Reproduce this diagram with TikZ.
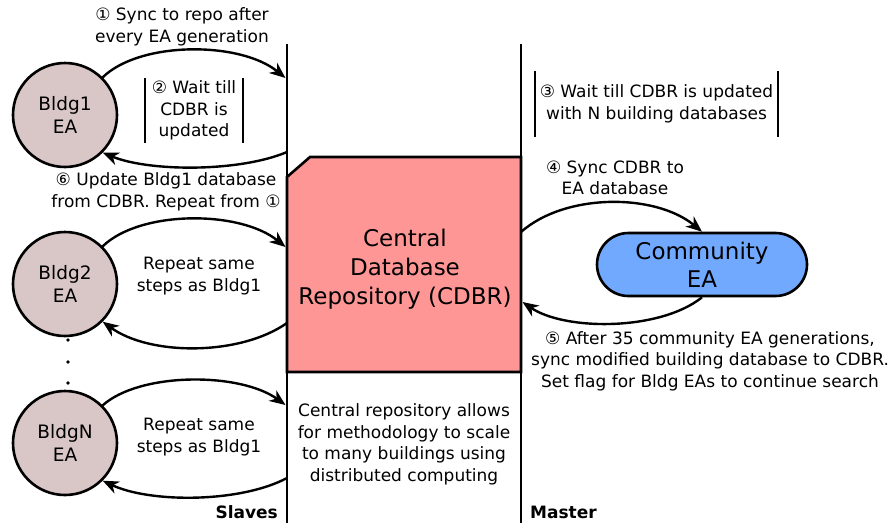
\documentclass[tikz,border=0pt]{standalone}
\usepackage{fontspec}
\setmainfont{DejaVu Sans}
\usetikzlibrary{arrows.meta,shapes.misc}
\definecolor{bldgfill}{RGB}{217,199,199}
\definecolor{repofill}{RGB}{255,150,150}
\definecolor{commfill}{RGB}{113,169,255}

\begin{document}
\begin{tikzpicture}[x=1pt,y=-1pt,
  small/.style={font=\fontsize{17}{21.5}\selectfont, align=center, inner sep=0pt},
  bigtext/.style={font=\fontsize{23}{29}\selectfont, align=center, inner sep=0pt},
  bldg/.style={circle, draw, line width=2.6pt, fill=bldgfill, minimum size=104pt,
    inner sep=0pt, align=center, font=\fontsize{18.5}{22.5}\selectfont},
  flow/.style={line width=2.4pt, -{Stealth[length=16pt,width=13pt,inset=5pt]}},
  lane/.style={line width=2.4pt},
  bar/.style={line width=2.4pt},
  waitbox/.style={small, minimum height=65pt},
  lanelabel/.style={font=\fontsize{17}{20}\selectfont\bfseries, inner sep=0pt},
  ]
\useasboundingbox (0,0) rectangle (893,523);

% swim lanes: slaves on the left, master on the right
\coordinate (slaveTop) at (287,44);
\coordinate (slaveBot) at (287,523);
\coordinate (masterTop) at (521,44);
\coordinate (masterBot) at (521,523);
\draw[lane] (slaveTop) -- (slaveBot);
\draw[lane] (masterTop) -- (masterBot);

% central database repository
\draw[line width=2.6pt, fill=repofill]
  (310,157) -- (521,157) -- (521,372) -- (287,372) -- (287,177) -- cycle;
\node[bigtext] (cdbr) at (405,269) {Central\\Database\\Repository (CDBR)};

% building EAs
\node[bldg] (b1) at (65,115) {Bldg1\\EA};
\node[bldg] (b2) at (65,284) {Bldg2\\EA};
\node[bldg] (b3) at (65,443) {BldgN\\EA};
\foreach \yy/\nm in {340/d1,362/d2,383/d3}
  \fill (68,\yy) circle[radius=1.9pt] coordinate (\nm);

% community EA
\node[rounded rectangle, draw, line width=2.6pt, fill=commfill,
  minimum width=210pt, minimum height=63pt, inner sep=0pt,
  font=\fontsize{23}{28}\selectfont, align=center] (comm) at (702,264.5) {Community\\EA};

% ends of the connectors on the lanes
\coordinate (s1a) at (285.5,78);
\coordinate (s1b) at (287,152);
\coordinate (s2a) at (285.5,247);
\coordinate (s2b) at (287,323);
\coordinate (s3a) at (285.5,405);
\coordinate (s3b) at (287,478);
\coordinate (m4) at (521,232);
\coordinate (m5) at (522.5,302);

% slave connectors
\draw[flow] (b1.45) .. controls (140,41) and (240,41) .. (s1a);
\draw[flow] (s1b) .. controls (240,172) and (150,172) .. (b1.-45);
\draw[flow] (b2.45) .. controls (140,210) and (240,210) .. (s2a);
\draw[flow] (s2b) .. controls (240,356) and (150,356) .. (b2.-45);
\draw[flow] (b3.45) .. controls (140,372) and (240,372) .. (s3a);
\draw[flow] (s3b) .. controls (240,503) and (150,503) .. (b3.-45);

% master connectors
\draw[flow] (m4) .. controls (565,193) and (655,193) .. (comm.north);
\draw[flow] (comm.south) .. controls (660,331) and (565,331) .. (m5);

% step labels
\node[small] (t1) at (182,27) {① Sync to repo after\\every EA generation};
\node[waitbox, minimum width=98pt] (w2) at (194,110.5) {② Wait till\\CDBR is\\updated};
\draw[bar] (w2.north west) -- (w2.south west);
\draw[bar] (w2.north east) -- (w2.south east);
\node[small] (t6) at (166,192) {⑥ Update Bldg1 database\\from CDBR. Repeat from ①};
\node[small] (r2) at (199,276) {Repeat same\\steps as Bldg1};
\node[small] (r3) at (199,437) {Repeat same\\steps as Bldg1};

\node[waitbox, minimum width=243pt] (w3) at (656.5,104) {③ Wait till CDBR is updated\\with N building databases};
\draw[bar] (w3.north west) -- (w3.south west);
\draw[bar] (w3.north east) -- (w3.south east);
\node[small] (t4) at (615,178) {④ Sync CDBR to\\EA database};
\node[small] (t5) at (710,361) {⑤ After 35 community EA generations,\\sync modified building database to CDBR.\\Set flag for Bldg EAs to continue search};

\node[small] (note) at (404,444.5) {Central repository allows\\for methodology to scale\\to many buildings using\\distributed computing};

% lane labels
\node[lanelabel, anchor=east] (slaves) at (278,512) {Slaves};
\node[lanelabel, anchor=west] (master) at (530,512) {Master};
\end{tikzpicture}
\end{document}
